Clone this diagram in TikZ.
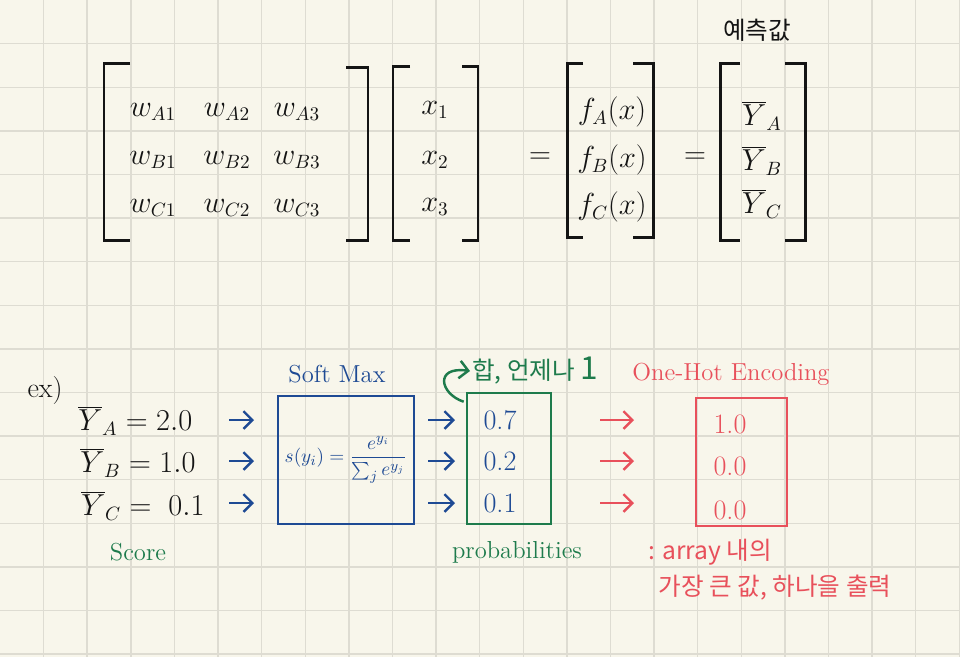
\documentclass[tikz,border=0pt]{standalone}
\usepackage{fontspec}
\newfontfamily\kr{Noto Sans CJK KR}
\usetikzlibrary{positioning,arrows.meta}
\tikzset{>={Straight Barb[length=5pt,width=10pt]}}
\definecolor{paper}{HTML}{F8F6EB}
\definecolor{gridline}{HTML}{DEDCD2}
\definecolor{ink}{HTML}{141414}
\definecolor{blueink}{HTML}{1E4A94}
\definecolor{greenink}{HTML}{1E7B4C}
\definecolor{redink}{HTML}{E8505B}
\tikzset{
  entry/.style={text=ink, inner sep=0pt, font=\fontsize{16}{17}\selectfont},
  handnote/.style={inner sep=1pt, font=\fontsize{14}{16}\selectfont},
  bracket/.style={draw=ink, line width=1.7pt},
  inkbox/.style={draw, line width=1.5pt, inner sep=0pt},
  inkarrow/.style={->, line width=1.4pt}
}

\begin{document}
\begin{tikzpicture}[x=0.02cm, y=-0.02cm]
  \useasboundingbox (0,0) rectangle (960,657);
  \fill[paper] (0,0) rectangle (960,657);
  \foreach \i in {1,...,22} \draw[gridline, line width=0.8pt] (\i*43.6,0) -- (\i*43.6,657);
  \foreach \i in {1,...,15} \draw[gridline, line width=0.8pt] (0,\i*43.6) -- (960,\i*43.6);

  % weights
  \node[entry] (nA1) at (153,112) {$w_{A1}$};
  \node[entry, below of=nA1, node distance=0.96cm] (nB1) {$w_{B1}$};
  \node[entry, below of=nB1, node distance=0.96cm] (nC1) {$w_{C1}$};
  \node[entry, right of=nA1, node distance=1.48cm] (nA2) {$w_{A2}$};
  \node[entry, below of=nA2, node distance=0.96cm] (nB2) {$w_{B2}$};
  \node[entry, below of=nB2, node distance=0.96cm] (nC2) {$w_{C2}$};
  \node[entry, right of=nA2, node distance=1.4cm] (nA3) {$w_{A3}$};
  \node[entry, below of=nA3, node distance=0.96cm] (nB3) {$w_{B3}$};
  \node[entry, below of=nB3, node distance=0.96cm] (nC3) {$w_{C3}$};
  \draw[bracket] (130,63) -| (104,240) -- (130,240);
  \draw[bracket] (346,67) -| (368,240) -- (346,240);

  % inputs
  \node[entry] (x1) at (435,110) {$x_1$};
  \node[entry, below of=x1, node distance=1cm] (x2) {$x_2$};
  \node[entry, below of=x2, node distance=0.94cm] (x3) {$x_3$};
  \draw[bracket] (410,66) -| (393,240) -- (410,240);
  \draw[bracket] (462,66) -| (478,240) -- (462,240);

  \node[entry] (eq1) at (540,158) {$=$};

  \node[entry] (fA) at (612,112) {$f_A(x)$};
  \node[entry, below of=fA, node distance=0.96cm] (fB) {$f_B(x)$};
  \node[entry, below of=fB, node distance=0.94cm] (fC) {$f_C(x)$};
  \draw[bracket] (583,63) -| (567,237) -- (583,237);
  \draw[bracket] (633,63) -| (653,237) -- (633,237);

  \node[entry] (eq2) at (695,158) {$=$};

  \node[entry] (yA) at (762,116) {$\overline{Y}_A$};
  \node[entry, below of=yA, node distance=0.9cm] (yB) {$\overline{Y}_B$};
  \node[entry, below of=yB, node distance=0.86cm] (yC) {$\overline{Y}_C$};
  \draw[bracket] (740,63) -| (720,240) -- (740,240);
  \draw[bracket] (785,63) -| (805,240) -- (785,240);
  \node[handnote, text=ink] (pred) at (757,30) {\kr 예측값};

  % example
  \node[entry] (ex) at (45,390) {ex)};
  \node[entry, anchor=west] (sA) at (78,421) {$\overline{Y}_A = 2.0$};
  \node[entry, anchor=west] (sB) at (80,463) {$\overline{Y}_B = 1.0$};
  \node[entry, anchor=west] (sC) at (81,506) {$\overline{Y}_C = \ 0.1$};
  \node[handnote, text=greenink] (score) at (138,552) {Score};

  \node[inkbox, draw=blueink, text=blueink, minimum width=2.72cm, minimum height=2.56cm] (n1) at (346,460)
    {\fontsize{11}{13}\selectfont $s(y_i)=\displaystyle\frac{e^{y_i}}{\sum_j e^{y_j}}$};
  \node[handnote, text=blueink] (soft) at (337,374) {Soft Max};

  \node[inkbox, draw=greenink, minimum width=1.68cm, minimum height=2.62cm] (n2) at (509,458.5) {};
  \node[entry, text=blueink] (p1) at (500,420) {0.7};
  \node[entry, text=blueink] (p2) at (500,461) {0.2};
  \node[entry, text=blueink] (p3) at (500,503) {0.1};
  \node[handnote, text=greenink] (prob) at (517,552) {probabilities};
  \node[handnote, text=greenink, anchor=west] (sum) at (470,371) {\kr 합, 언제나 {\fontsize{18}{18}\selectfont 1}};

  \node[inkbox, draw=redink, minimum width=1.82cm, minimum height=2.56cm] (n3) at (741.5,462) {};
  \node[entry, text=redink] (o1) at (730,424) {1.0};
  \node[entry, text=redink] (o2) at (730,466) {0.0};
  \node[entry, text=redink] (o3) at (730,510) {0.0};
  \node[handnote, text=redink] (onehot) at (731,374) {One-Hot Encoding};
  \node[handnote, text=redink, anchor=west] (note1) at (646,552) {\kr : array 내의};
  \node[handnote, text=redink] (note2) at (775,588) {\kr 가장 큰 값, 하나을 출력};

  \coordinate (aux1) at (229,0);
  \coordinate (aux2) at (254,0);
  \coordinate (aux3) at (428,0);
  \coordinate (aux4) at (455,0);
  \coordinate (aux5) at (600,0);
  \coordinate (aux6) at (634,0);
  \draw[inkarrow, blueink] (p1 -| aux1) -- (p1 -| aux2);
  \draw[inkarrow, blueink] (p2 -| aux1) -- (p2 -| aux2);
  \draw[inkarrow, blueink] (p3 -| aux1) -- (p3 -| aux2);
  \draw[inkarrow, blueink] (p1 -| aux3) -- (p1 -| aux4);
  \draw[inkarrow, blueink] (p2 -| aux3) -- (p2 -| aux4);
  \draw[inkarrow, blueink] (p3 -| aux3) -- (p3 -| aux4);
  \draw[inkarrow, redink] (p1 -| aux5) -- (p1 -| aux6);
  \draw[inkarrow, redink] (p2 -| aux5) -- (p2 -| aux6);
  \draw[inkarrow, redink] (p3 -| aux5) -- (p3 -| aux6);
  \draw[inkarrow, greenink] ([shift={(-2,10)}]n2.north west) .. controls (440,394) and (434,366) .. (sum.west);
\end{tikzpicture}
\end{document}
